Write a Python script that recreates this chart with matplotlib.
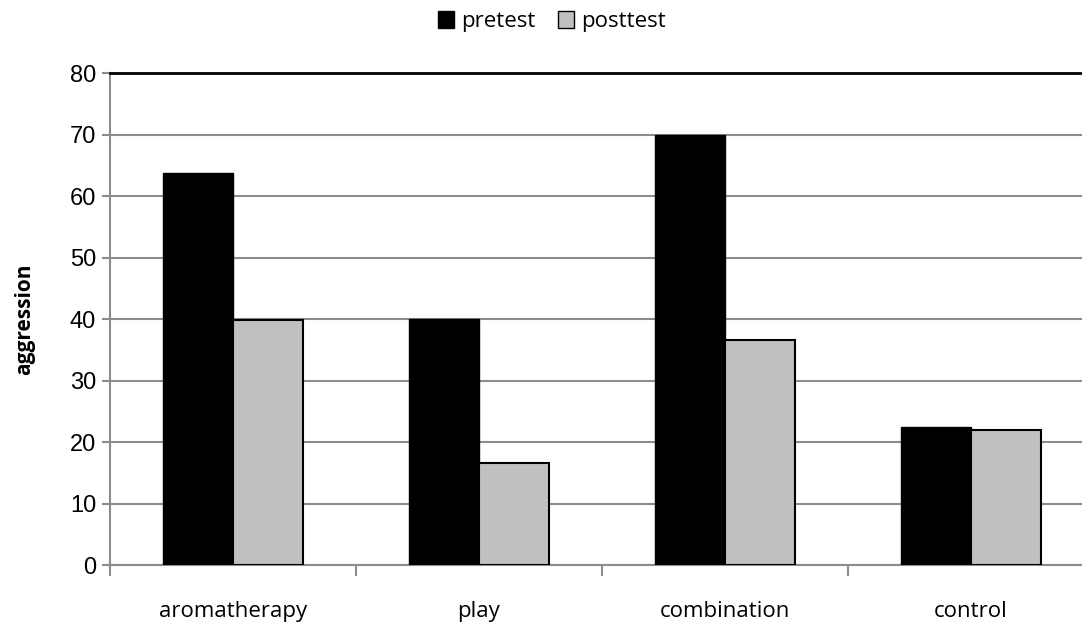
import numpy as np
import matplotlib.pyplot as plt
from matplotlib.patches import Patch

categories = ['aromatherapy', 'play', 'combination', 'control']
pretest = [63.7, 40.0, 69.9, 22.5]
posttest = [39.9, 16.6, 36.6, 22.0]

fig = plt.figure(figsize=(10.82, 6.22), dpi=100)
ax = fig.add_axes([0.1017, 0.0916, 0.9093, 0.791])

x = np.arange(len(categories))
w = 0.285
ax.bar(x - w / 2, pretest, w, color='black', edgecolor='black', linewidth=1, zorder=3)
ax.bar(x + w / 2, posttest, w, color='#c0c0c0', edgecolor='black', linewidth=1.5, zorder=3)

ax.set_xlim(-0.5, len(categories) - 0.5)
ax.set_ylim(0, 80)
ax.set_yticks(range(0, 81, 10))
ax.yaxis.grid(True, color='#8c8c8c', linewidth=1.5, zorder=0)
ax.tick_params(axis='y', labelsize=17, length=6, color='#8c8c8c', width=1.5, pad=4)
for t in ax.get_yticklabels():
    t.set_family('Liberation Sans')

ax.set_xticks(x)
ax.set_xticklabels(categories, fontsize=16, family='Open Sans')
ax.tick_params(axis='x', length=0, pad=26)
ax.set_xticks(np.arange(-0.5, len(categories), 1), minor=True)
ax.tick_params(axis='x', which='minor', length=8, color='#8c8c8c', width=1.5)

for s in ['left', 'bottom']:
    ax.spines[s].set_color('#8c8c8c')
    ax.spines[s].set_linewidth(1.5)
ax.spines['right'].set_visible(False)
ax.spines['top'].set_color('black')
ax.spines['top'].set_linewidth(2)

ax.set_ylabel('aggression', fontsize=15, fontweight='bold', family='Open Sans', labelpad=25)

handles = [Patch(facecolor='black', edgecolor='black'),
           Patch(facecolor='#c0c0c0', edgecolor='black')]
fig.legend(handles, ['pretest', 'posttest'], loc='center', bbox_to_anchor=(0.51, 0.965),
           ncol=2, frameon=False, prop={'family': 'Open Sans', 'size': 16},
           handlelength=0.75, handleheight=0.75, handletextpad=0.3, columnspacing=1.0)

fig.savefig('out.png', dpi=100)
